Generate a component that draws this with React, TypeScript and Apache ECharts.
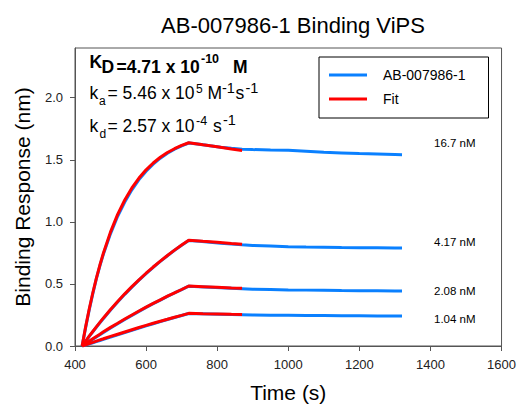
import React, { useEffect, useRef } from "react";
import * as echarts from "echarts";

// ---- data ----
const assocTimes = [420, 430, 440, 450, 460, 470, 480, 500, 520, 540, 560, 580, 600, 620, 640, 660, 680, 700, 720];
const fitDissocTimes = [720, 760, 800, 840, 870];
const dataDissocTimes = [720, 750, 780, 810, 840, 870, 900, 950, 1000, 1050, 1100, 1150, 1200, 1250, 1300, 1320];

const concLabels = ["16.7 nM", "4.17 nM", "2.08 nM", "1.04 nM"];

// fitted association curves
const fitAssoc167 = [0, 0.156, 0.298, 0.427, 0.545, 0.652, 0.749, 0.919, 1.06, 1.176, 1.273, 1.353, 1.419, 1.474, 1.52, 1.558, 1.589, 1.615, 1.637];
const fitAssoc417 = [0, 0.04, 0.079, 0.117, 0.154, 0.19, 0.226, 0.294, 0.358, 0.42, 0.478, 0.533, 0.586, 0.636, 0.683, 0.729, 0.772, 0.813, 0.852];
const fitAssoc208 = [0, 0.02, 0.039, 0.058, 0.077, 0.095, 0.114, 0.15, 0.183, 0.217, 0.25, 0.282, 0.313, 0.343, 0.372, 0.401, 0.428, 0.455, 0.483];
const fitAssoc104 = [0, 0.01, 0.02, 0.029, 0.039, 0.049, 0.058, 0.077, 0.095, 0.113, 0.131, 0.149, 0.166, 0.183, 0.199, 0.215, 0.232, 0.247, 0.263];

// fitted dissociation curves
const fitDiss167 = [1.637, 1.62, 1.604, 1.587, 1.575];
const fitDiss417 = [0.852, 0.843, 0.835, 0.826, 0.82];
const fitDiss208 = [0.483, 0.478, 0.473, 0.468, 0.465];
const fitDiss104 = [0.263, 0.26, 0.258, 0.255, 0.253];

// measured association
const dataAssoc167 = [0, 0.15, 0.29, 0.42, 0.54, 0.645, 0.74, 0.905, 1.045, 1.16, 1.258, 1.34, 1.408, 1.465, 1.513, 1.552, 1.585, 1.612, 1.635];
const dataAssoc417 = [0, 0.038, 0.077, 0.114, 0.151, 0.187, 0.222, 0.29, 0.354, 0.416, 0.474, 0.53, 0.583, 0.634, 0.681, 0.727, 0.771, 0.812, 0.85];
const dataAssoc208 = [0, 0.018, 0.036, 0.055, 0.073, 0.091, 0.109, 0.145, 0.179, 0.213, 0.246, 0.279, 0.311, 0.341, 0.37, 0.399, 0.427, 0.454, 0.482];
const dataAssoc104 = [0, 0.008, 0.017, 0.026, 0.035, 0.044, 0.053, 0.071, 0.09, 0.108, 0.126, 0.144, 0.162, 0.179, 0.196, 0.213, 0.23, 0.246, 0.262];

// measured dissociation
const dataDiss167 = [1.635, 1.625, 1.612, 1.6, 1.592, 1.585, 1.582, 1.578, 1.576, 1.568, 1.56, 1.555, 1.55, 1.546, 1.542, 1.54];
const dataDiss417 = [0.85, 0.843, 0.836, 0.828, 0.821, 0.815, 0.81, 0.805, 0.8, 0.797, 0.795, 0.793, 0.792, 0.791, 0.79, 0.79];
const dataDiss208 = [0.482, 0.478, 0.474, 0.47, 0.466, 0.462, 0.458, 0.455, 0.452, 0.45, 0.448, 0.446, 0.445, 0.444, 0.443, 0.442];
const dataDiss104 = [0.262, 0.26, 0.258, 0.256, 0.253, 0.251, 0.249, 0.248, 0.247, 0.246, 0.245, 0.244, 0.243, 0.242, 0.241, 0.241];

const xTicks = [400, 600, 800, 1000, 1200, 1400, 1600];
const yTicks = [0, 0.5, 1.0, 1.5, 2.0];

const BLUE = "#0a80ff";
const RED = "#ff0000";
const FONT = "Arial, 'Liberation Sans', Helvetica, sans-serif";

function pairs(ts: number[], vs: number[]) {
  return ts.map((t, i) => [t, vs[i]]);
}

// a text fragment placed on an alphabetic baseline
function seg(text: string, x: number, baseline: number, size: number, bold = false) {
  return {
    type: "text",
    x,
    y: baseline - 0.35 * size,
    silent: true,
    style: {
      text,
      fontSize: size,
      fontWeight: bold ? "bold" : "normal",
      fontFamily: FONT,
      fill: "#000",
      verticalAlign: "middle",
      align: "left",
    },
  };
}

export default function App() {
  const ref = useRef<HTMLDivElement>(null);
  useEffect(() => {
    if (!ref.current) return;
    const chart = echarts.init(ref.current, undefined, { renderer: "svg" });

    const dataSets = [
      [dataAssoc167, dataDiss167],
      [dataAssoc417, dataDiss417],
      [dataAssoc208, dataDiss208],
      [dataAssoc104, dataDiss104],
    ];
    const fitSets = [
      [fitAssoc167, fitDiss167],
      [fitAssoc417, fitDiss417],
      [fitAssoc208, fitDiss208],
      [fitAssoc104, fitDiss104],
    ];

    const series: any[] = [];
    dataSets.forEach(([a, d]) => {
      series.push({
        name: "AB-007986-1",
        type: "line",
        symbol: "none",
        lineStyle: { color: BLUE, width: 3 },
        itemStyle: { color: BLUE },
        data: [...pairs(assocTimes, a), ...pairs(dataDissocTimes, d).slice(1)],
        z: 2,
      });
    });
    fitSets.forEach(([a, d]) => {
      series.push({
        name: "Fit",
        type: "line",
        symbol: "none",
        lineStyle: { color: RED, width: 3 },
        itemStyle: { color: RED },
        data: [...pairs(assocTimes, a), ...pairs(fitDissocTimes, d).slice(1)],
        z: 3,
      });
    });

    const concY = [143, 242, 291, 319];

    const annotations = [
      // K_D line
      seg("K", 89.5, 68.3, 17.5, true),
      seg("D", 101.5, 72.7, 17.5, true),
      seg("=4.71 x 10", 116.5, 72.7, 17.5, true),
      seg("-10", 201, 63.3, 12.5, true),
      seg("M", 233, 72.7, 17.5, true),
      // k_a line
      seg("k", 89.5, 99.3, 17.5),
      seg("a", 99, 105, 12),
      seg("= 5.46 x 10", 107.5, 99.3, 17.5),
      seg("5", 196, 93.3, 12),
      seg("M", 207.5, 99.3, 17.5),
      seg("-1", 222, 93.3, 14.5),
      seg("s", 235.5, 99.3, 17.5),
      seg("-1", 245.5, 93.3, 14.5),
      // k_d line
      seg("k", 89.5, 131.7, 17.5),
      seg("d", 99.5, 138, 12),
      seg("= 2.57 x 10", 107.5, 131.7, 17.5),
      seg("-4", 196, 125, 12.5),
      seg("s", 213, 131.7, 17.5),
      seg("-1", 223, 125, 14.5),
    ];

    const option: any = {
      animation: false,
      title: {
        text: "AB-007986-1 Binding ViPS",
        left: 288,
        top: 9,
        textAlign: "center",
        textStyle: { fontSize: 22, fontWeight: "normal", color: "#000", fontFamily: FONT },
      },
      grid: {
        left: 75,
        right: 17,
        top: 48,
        bottom: 62,
        show: true,
        borderColor: "#555",
        borderWidth: 1,
        backgroundColor: "transparent",
      },
      legend: {
        data: ["AB-007986-1", "Fit"],
        orient: "vertical",
        left: 319,
        top: 57,
        padding: [11, 23, 12, 10],
        icon: "rect",
        itemWidth: 38,
        itemHeight: 3,
        itemGap: 10,
        borderColor: "#000",
        borderWidth: 1,
        textStyle: { fontSize: 14, color: "#000", fontFamily: FONT, padding: [0, 0, 0, 11] },
      },
      xAxis: {
        type: "value",
        min: 400,
        max: 1600,
        interval: 200,
        name: "Time (s)",
        nameLocation: "middle",
        nameGap: 36,
        nameTextStyle: { fontSize: 21, color: "#000", fontFamily: FONT },
        axisLine: { show: true, onZero: false, lineStyle: { color: "#555", width: 1 } },
        axisTick: { show: true, length: 5, customValues: xTicks, lineStyle: { color: "#555" } },
        axisLabel: {
          customValues: xTicks,
          fontSize: 13,
          color: "#222",
          margin: 12,
          fontFamily: FONT,
          formatter: (v: number) => String(v),
        },
        splitLine: { show: false },
      },
      yAxis: {
        type: "value",
        min: 0,
        max: 2.4,
        name: "Binding Response (nm)",
        nameLocation: "middle",
        nameGap: 42,
        nameTextStyle: { fontSize: 21, color: "#000", fontFamily: FONT },
        axisLine: { show: true, onZero: false, lineStyle: { color: "#555", width: 1 } },
        axisTick: { show: true, length: 5, customValues: yTicks, lineStyle: { color: "#555" } },
        axisLabel: {
          customValues: yTicks,
          fontSize: 13,
          color: "#222",
          margin: 12,
          fontFamily: FONT,
          formatter: (v: number) => v.toFixed(1),
        },
        splitLine: { show: false },
      },
      graphic: [
        ...annotations,
        ...concLabels.map((lab, i) => ({
          type: "text",
          x: 434,
          y: concY[i],
          style: {
            text: lab,
            fontSize: 11.5,
            fontFamily: FONT,
            fill: "#000",
            verticalAlign: "middle",
          },
        })),
      ],
      series,
    };
    chart.setOption(option);
    return () => chart.dispose();
  }, []);
  return (
    <div
      ref={ref}
      style={{ position: "fixed", left: 0, top: 0, width: 519, height: 408, background: "#fff" }}
    />
  );
}
